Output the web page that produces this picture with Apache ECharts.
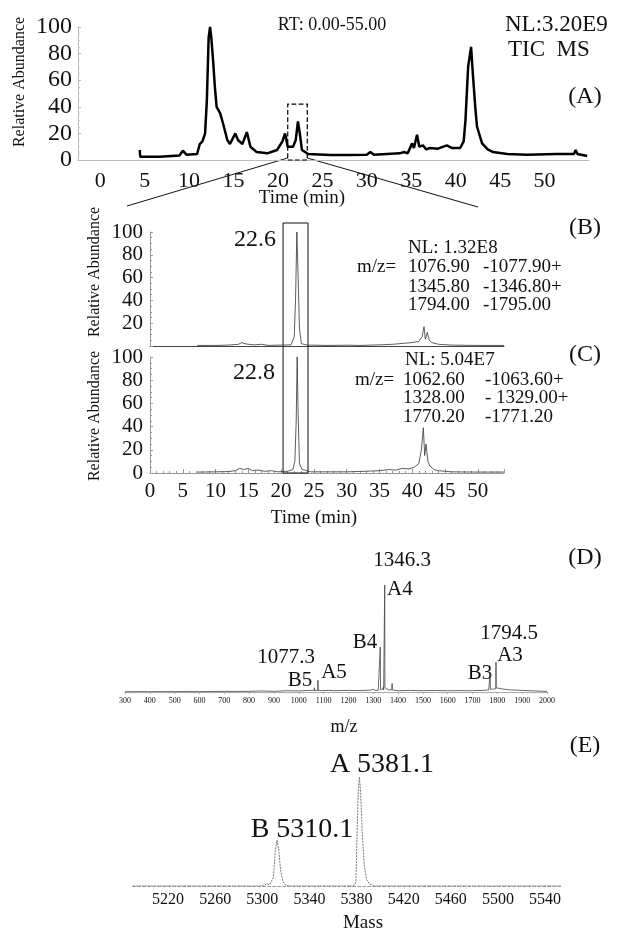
<!DOCTYPE html>
<html>
<head>
<meta charset="utf-8">
<title>TIC / EIC / MS</title>
<script src="https://cdn.jsdelivr.net/npm/echarts@6/dist/echarts.min.js"></script>
<style>
html, body { margin: 0; padding: 0; background: #fff; }
#main { width: 621px; height: 932px; }
</style>
</head>
<body>
<div id="main"></div>
<script>
var FONT = "'Liberation Serif', 'Times New Roman', serif";

// (A) TIC: [time (min), relative abundance]
var ticData = [
    [4.45, 7.5], [4.5, 2.5], [6.7, 2.5], [6.8, 3.2], [8.9, 3.3], [9.3, 7], [9.7, 4], [10.9, 4.5],
    [11.2, 12], [11.5, 14], [11.8, 20], [12.0, 45], [12.2, 92], [12.36, 100], [12.5, 92], [12.7, 75],
    [12.9, 55], [13.1, 40], [13.5, 35], [13.8, 28], [14.3, 15], [14.6, 12], [15.2, 20], [15.5, 15],
    [16.0, 12], [16.5, 21], [16.9, 10], [17.6, 6], [18.8, 5], [19.9, 7.5], [20.5, 14], [20.8, 20],
    [21.1, 10], [21.7, 10], [22.0, 15], [22.25, 29], [22.5, 18], [22.7, 7.5], [23.4, 4.5], [25.9, 3.8],
    [28, 3.8], [30.0, 4], [30.4, 6], [30.8, 4], [33.7, 5], [34.2, 6], [34.6, 5], [35.1, 12.5],
    [35.3, 9], [35.65, 19], [35.9, 10], [36.3, 11], [36.7, 8], [37.1, 9], [38, 8.5], [39, 11],
    [39.6, 9], [40.5, 9], [40.9, 14], [41.1, 30], [41.4, 70], [41.73, 85], [41.96, 62], [42.2, 40],
    [42.4, 25], [42.97, 12.5], [43.6, 8], [44.2, 6], [45.8, 4.5], [48, 4], [51.4, 4.5], [53.3, 4.5],
    [53.5, 7.5], [53.7, 4.5], [54.8, 3]
];
var ticBox = [21.1, 23.3, 42];

// (B) and (C) extracted ion chromatograms
var eicB = [
    [7.2, 0.5], [10, 0.5], [12, 0.8], [13.5, 1.5], [14, 3], [14.5, 2], [15, 1.5], [16, 1], [17, 1.5],
    [18, 0.5], [20, 0.8], [21.5, 1], [22.0, 8], [22.2, 40], [22.4, 100], [22.6, 60], [22.8, 15],
    [23.1, 2], [24, 0.8], [27, 0.5], [30, 0.7], [32, 0.5], [35, 1], [37, 1.5], [38, 2], [39, 2.5],
    [40, 3], [41, 4], [41.5, 8], [41.8, 17], [42.0, 6], [42.3, 12], [42.6, 5], [43, 3], [44, 1.5],
    [46, 0.8], [50, 0.5], [54, 0.5]
];
var eicC = [
    [7.2, 0.8], [10, 1], [12, 1.2], [13, 2], [13.7, 4], [14.3, 3], [15, 4], [15.6, 2], [16.5, 2.5],
    [17.5, 1.5], [18.5, 2], [19.5, 1], [21, 1.5], [21.8, 3], [22.1, 10], [22.3, 45], [22.45, 100],
    [22.6, 50], [22.8, 8], [23.2, 3], [23.6, 2.5], [24.5, 1], [27, 1], [30, 1], [33, 1.5], [35, 2],
    [36.5, 3], [37.5, 2.5], [38.5, 4], [39.5, 3.5], [40.3, 5], [41, 8], [41.4, 20], [41.7, 39],
    [41.9, 15], [42.1, 25], [42.4, 10], [42.7, 6], [43.3, 3], [44, 2], [46, 1], [50, 0.8], [54, 0.8]
];
var eicBox = [20.3, 24.1];

// (D) m/z spectrum
var msData = [
    [300, 0.3], [400, 0.3], [500, 0.4], [600, 0.4], [700, 0.5], [800, 0.6], [850, 1], [900, 0.6],
    [950, 1.2], [1000, 1], [1040, 1.5], [1062, 1.6], [1063, 4], [1064, 1.2], [1070, 1.5], [1076.5, 1.5],
    [1077.3, 11], [1078, 1.5], [1085, 2.5], [1090, 1.2], [1120, 1.5], [1150, 1.2], [1200, 1.5],
    [1250, 1.3], [1290, 1.8], [1300, 2.5], [1310, 1.5], [1318, 3], [1320, 1.5], [1327.5, 2],
    [1328.5, 42], [1329.5, 2], [1340, 3], [1341, 5], [1342, 2], [1345.5, 3], [1346.3, 100], [1347, 4],
    [1352, 3], [1362, 2], [1375, 2], [1376, 8], [1377, 2], [1400, 1.2], [1450, 1.5], [1500, 1.2],
    [1550, 1.4], [1600, 1.2], [1650, 1.3], [1700, 1.2], [1750, 1.6], [1765, 2], [1770.5, 2],
    [1771.2, 18], [1772, 2.5], [1780, 3], [1793.8, 3], [1794.5, 28], [1795.3, 4], [1800, 3.5],
    [1815, 3], [1830, 2.5], [1850, 2], [1900, 1.5], [1950, 1], [2000, 0.5]
];

// (E) deconvoluted mass
var massData = [
    [5190, 0], [5298, 0], [5302, 1], [5304, 2], [5306, 1], [5307.5, 1], [5309.5, 8], [5311, 32],
    [5312.5, 42], [5314, 33], [5315.5, 15], [5317.5, 4], [5320, 0.5], [5323, 0], [5376, 0],
    [5378.5, 1], [5379.5, 4], [5380.5, 50], [5381.5, 88], [5382.5, 100], [5383.5, 85], [5385, 45],
    [5386.5, 20], [5388.5, 6], [5391, 2], [5395, 0], [5554, 0]
];

var notes = [
    ["RT: 0.00-55.00", 332, 25, 18, "center"],
    ["NL:3.20E9", 505, 25, 23, "left"],
    ["TIC  MS", 508, 50, 23, "left"],
    ["(A)", 585, 97, 24, "center"],
    ["Time (min)", 302, 198, 19, "center"],
    ["22.6", 255, 240, 24, "center"],
    ["(B)", 585, 228, 24, "center"],
    ["NL: 1.32E8", 408, 248, 19, "left"],
    ["m/z=", 357, 267, 19, "left"],
    ["1076.90", 408, 267, 19, "left"],
    ["-1077.90+", 483, 267, 19, "left"],
    ["1345.80", 408, 287, 19, "left"],
    ["-1346.80+", 483, 287, 19, "left"],
    ["1794.00", 408, 305, 19, "left"],
    ["-1795.00", 483, 305, 19, "left"],
    ["22.8", 254, 373, 24, "center"],
    ["(C)", 585, 355, 24, "center"],
    ["NL: 5.04E7", 405, 360, 19, "left"],
    ["m/z=", 355, 380, 19, "left"],
    ["1062.60", 403, 380, 19, "left"],
    ["-1063.60+", 485, 380, 19, "left"],
    ["1328.00", 403, 398, 19, "left"],
    ["- 1329.00+", 485, 398, 19, "left"],
    ["1770.20", 403, 417, 19, "left"],
    ["-1771.20", 485, 417, 19, "left"],
    ["Time (min)", 314, 518, 19, "center"],
    ["1346.3", 402, 560, 21, "center"],
    ["A4", 387, 589, 21, "left"],
    ["B4", 365, 642, 21, "center"],
    ["1077.3", 286, 657, 21, "center"],
    ["B5", 300, 680, 21, "center"],
    ["A5", 334, 672, 21, "center"],
    ["1794.5", 509, 633, 21, "center"],
    ["A3", 510, 655, 21, "center"],
    ["B3", 480, 673, 21, "center"],
    ["(D)", 585, 558, 24, "center"],
    ["m/z", 344, 727, 18, "center"],
    ["A 5381.1", 382, 765, 28, "center"],
    ["B 5310.1", 302, 830, 28, "center"],
    ["(E)", 585, 746, 24, "center"],
    ["Mass", 363, 923, 19, "center"]
];
var yNames = [[20, 82], [95, 272], [95, 416]];

function txt(s, x, y, size, align, rot) {
    return {
        type: 'text', x: x, y: y, rotation: rot || 0, silent: true,
        style: {
            text: s, fill: '#111', font: size + 'px ' + FONT,
            align: align, verticalAlign: 'middle', textAlign: align, textVerticalAlign: 'middle'
        }
    };
}

// show only from..to in steps of step, plain numbers (no thousands comma)
function every(step, from, to) {
    return function (v) {
        if (v < from || (to !== undefined && v > to)) {
            return '';
        }
        return Math.abs((v - from) % step) < 1e-6 ? String(v) : '';
    };
}

function label(size, margin, fmt) {
    return { show: true, fontSize: size, fontFamily: FONT, color: '#111', margin: margin, formatter: fmt };
}

function line(x, y, data, color, width, type) {
    return {
        type: 'line', xAxisIndex: x, yAxisIndex: y, data: data, symbol: 'none', showSymbol: false,
        lineStyle: { color: color, width: width, type: type || 'solid' }, silent: true
    };
}

var chart = echarts.init(document.getElementById('main'), null, { renderer: 'canvas' });

var grids = [
    { left: 78, top: 27, width: 511, height: 133 },
    { left: 150, top: 232, width: 354, height: 114 },
    { left: 150, top: 357, width: 354, height: 116 },
    { left: 150, top: 223, width: 354, height: 250 },
    { left: 125, top: 585, width: 422, height: 107 },
    { left: 132.7, top: 777, width: 428.8, height: 109 }
];
for (var g = 0; g < grids.length; ++g) {
    grids[g].outerBoundsMode = 'none';
    grids[g].containLabel = false;
}

var gray = { color: '#999', width: 1 };
var option = {
    animation: false,
    backgroundColor: '#fff',
    grid: grids,
    xAxis: [
        {
            gridIndex: 0, type: 'value', min: -2.5, max: 55, interval: 2.5,
            axisLine: { show: true, onZero: false, lineStyle: { color: '#bbb', width: 1 } },
            axisTick: { show: false }, splitLine: { show: false },
            axisLabel: label(22, 10, every(5, 0, 50))
        },
        {
            gridIndex: 1, type: 'value', min: 0, max: 54, interval: 5,
            axisLine: { show: true, onZero: false, lineStyle: { color: '#444', width: 1 } },
            axisTick: { show: false }, splitLine: { show: false }, axisLabel: { show: false }
        },
        {
            gridIndex: 2, type: 'value', min: 0, max: 54, interval: 5,
            axisLine: { show: true, onZero: false, lineStyle: gray },
            axisTick: { show: true, inside: true, length: 4, lineStyle: gray },
            minorTick: { show: true, splitNumber: 5, length: 2, lineStyle: gray },
            splitLine: { show: false },
            axisLabel: label(21, 8, every(5, 0, 50))
        },
        { gridIndex: 3, type: 'value', min: 0, max: 54, show: false },
        {
            gridIndex: 4, type: 'value', min: 300, max: 2000, interval: 100,
            axisLine: { show: true, onZero: false, lineStyle: { color: '#aaa', width: 1 } },
            axisTick: { show: true, length: 2, lineStyle: { color: '#aaa' } },
            minorTick: { show: true, splitNumber: 5, length: 1.5, lineStyle: { color: '#bbb' } },
            splitLine: { show: false },
            axisLabel: label(8, 5, every(100, 300, 2000))
        },
        {
            gridIndex: 5, type: 'value', min: 5190, max: 5554, interval: 10,
            axisLine: { show: true, onZero: false, lineStyle: { color: '#999', width: 1, type: [3, 2] } },
            axisTick: { show: false }, splitLine: { show: false },
            axisLabel: label(16, 6, every(40, 5220))
        }
    ],
    yAxis: [
        {
            gridIndex: 0, type: 'value', min: 0, max: 100, interval: 20,
            axisLine: { show: true, onZero: false, lineStyle: { color: '#bbb', width: 1 } },
            axisTick: { show: true, inside: true, length: 3, lineStyle: { color: '#bbb' } },
            minorTick: { show: true, splitNumber: 4, length: 2, lineStyle: { color: '#ccc' } },
            splitLine: { show: false },
            axisLabel: label(24, 6)
        },
        {
            gridIndex: 1, type: 'value', min: 0, max: 100, interval: 20,
            axisLine: { show: true, onZero: false, lineStyle: gray },
            axisTick: { show: true, inside: true, length: 3, lineStyle: gray },
            minorTick: { show: true, splitNumber: 4, length: 2, lineStyle: gray },
            splitLine: { show: false },
            axisLabel: label(21, 7, every(20, 20))
        },
        {
            gridIndex: 2, type: 'value', min: 0, max: 100, interval: 20,
            axisLine: { show: true, onZero: false, lineStyle: gray },
            axisTick: { show: true, inside: true, length: 3, lineStyle: gray },
            minorTick: { show: true, splitNumber: 4, length: 2, lineStyle: gray },
            splitLine: { show: false },
            axisLabel: label(21, 7)
        },
        { gridIndex: 3, type: 'value', min: 0, max: 1, show: false },
        { gridIndex: 4, type: 'value', min: 0, max: 100, show: false },
        { gridIndex: 5, type: 'value', min: 0, max: 100, show: false }
    ],
    series: []
};

var tic = line(0, 0, ticData, '#000', 2.5);
tic.markArea = {
    silent: true, label: { show: false },
    itemStyle: { color: 'rgba(0,0,0,0)', borderColor: '#000', borderWidth: 1.2, borderType: 'dashed' },
    data: [[{ coord: [ticBox[0], 0] }, { coord: [ticBox[1], ticBox[2]] }]]
};
var box = line(3, 3, [], '#000', 1);
box.markArea = {
    silent: true, label: { show: false },
    itemStyle: { color: 'rgba(0,0,0,0)', borderColor: '#111', borderWidth: 1 },
    data: [[{ coord: [eicBox[0], 0] }, { coord: [eicBox[1], 1] }]]
};
option.series.push(tic);
option.series.push(line(1, 1, eicB, '#333', 0.8));
option.series.push(line(2, 2, eicC, '#333', 0.8));
option.series.push(box);
option.series.push(line(4, 4, msData, '#444', 0.8));
option.series.push(line(5, 5, massData, '#777', 1, [2, 1]));

chart.setOption(option);

var graphic = [];
for (var i = 0; i < notes.length; ++i) {
    var n = notes[i];
    graphic.push(txt(n[0], n[1], n[2], n[3], n[4]));
}
for (var k = 0; k < yNames.length; ++k) {
    graphic.push(txt('Relative Abundance', yNames[k][0], yNames[k][1], 16, 'center', Math.PI / 2));
}
var a0 = chart.convertToPixel({ gridIndex: 0 }, [ticBox[0], 0]);
var a1 = chart.convertToPixel({ gridIndex: 0 }, [ticBox[1], 0]);
graphic.push({ type: 'line', silent: true, shape: { x1: a0[0], y1: a0[1] - 2, x2: 127, y2: 206 }, style: { stroke: '#111', lineWidth: 1 } });
graphic.push({ type: 'line', silent: true, shape: { x1: a1[0], y1: a1[1] - 2, x2: 478, y2: 207 }, style: { stroke: '#111', lineWidth: 1 } });
chart.setOption({ graphic: graphic });
</script>
</body>
</html>
